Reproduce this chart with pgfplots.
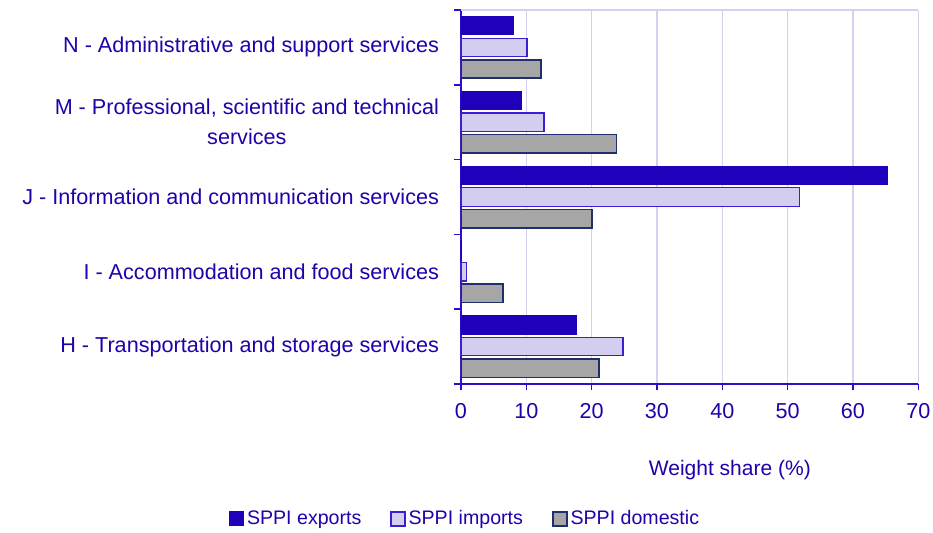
\documentclass[border=0pt]{standalone}
\usepackage{pgfplots}
\pgfplotsset{compat=1.18}
\usepackage{fontspec}
\setmainfont{Liberation Sans}
\definecolor{expc}{HTML}{2000BB}
\definecolor{impc}{HTML}{D3CEF0}
\definecolor{impd}{HTML}{3A1FD0}
\definecolor{domc}{HTML}{A6A6A6}
\definecolor{domd}{HTML}{1F2F6E}
\definecolor{gridc}{HTML}{D2D2F0}
\definecolor{axc}{HTML}{2A10C8}
\definecolor{txtc}{HTML}{2200AA}
\begin{document}
\begin{tikzpicture}
\useasboundingbox (-230.5pt,-74.5pt) rectangle (236pt,192pt);
\begin{axis}[
  scale only axis,
  width=228.65pt, height=187pt,
  xmin=0, xmax=70,
  ymin=-0.5, ymax=4.5,
  xbar=1.65pt,
  bar width=9.2pt,
  axis x line*=bottom, axis y line*=left,
  axis line style={draw=axc, line width=0.75pt, -},
  xtick={0,10,...,70},
  ytick={0,1,2,3,4},
  yticklabels={H - Transportation and storage services,
    I - Accommodation and food services,
    J - Information and communication services,
    {M - Professional, scientific and technical\\services},
    N - Administrative and support services},
  minor ytick={-0.5,0.5,...,4.5},
  tick align=outside,
  major tick length=3pt,
  minor tick length=3.5pt,
  major y tick style={draw=none},
  minor y tick style={draw=axc, line width=0.75pt},
  major x tick style={draw=axc, line width=0.75pt},
  xmajorgrids,
  major x grid style={draw=gridc, line width=0.75pt},
  /pgf/number format/assume math mode=true,
  tick label style={font=\fontsize{10.8}{15}\selectfont, text=txtc},
  yticklabel style={align=center, anchor=east, xshift=-4.5pt},
  xticklabel style={yshift=-3pt},
  xlabel={Weight share (\%)},
  xlabel style={font=\fontsize{10.5}{13}\selectfont, text=txtc, at={(axis description cs:0.588,0)}, anchor=center, yshift=-43pt},
  reverse legend,
  legend style={at={(axis description cs:0.01,0)}, anchor=center, yshift=-67.5pt, draw=none, fill=none,
    legend columns=3, font=\fontsize{9.8}{12}\selectfont, text=txtc,
    /tikz/every even column/.append style={column sep=13pt},
    nodes={inner sep=1.5pt}},
  legend image code/.code={\draw[#1] (0pt,-3.5pt) rectangle (7pt,3.5pt);},
  after end axis/.code={\draw[gridc, line width=0.75pt] (rel axis cs:0,1) -- (rel axis cs:1,1);},
]
\addplot[fill=domc, draw=domd, line width=0.8pt] coordinates {(21.1,0) (6.4,1) (20.1,2) (23.8,3) (12.25,4)};
\addplot[fill=impc, draw=impd, line width=0.6pt] coordinates {(24.8,0) (0.87,1) (51.8,2) (12.7,3) (10.1,4)};
\addplot[fill=expc, draw=expc, line width=0.5pt] coordinates {(17.7,0) (0.15,1) (65.3,2) (9.2,3) (8.0,4)};
\legend{SPPI domestic, SPPI imports, SPPI exports}
\end{axis}
\end{tikzpicture}
\end{document}
